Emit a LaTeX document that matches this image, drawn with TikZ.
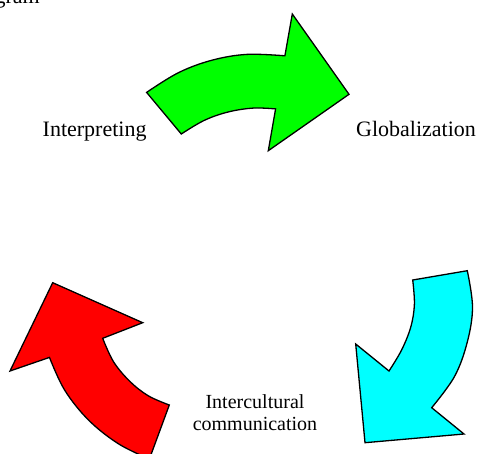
\documentclass[tikz,border=0pt]{standalone}
\usepackage{fontspec}
\setmainfont{Liberation Serif}
\definecolor{arrgreen}{RGB}{0,255,0}
\definecolor{arrcyan}{RGB}{0,255,255}
\definecolor{arrred}{RGB}{255,0,0}
\begin{document}
\begin{tikzpicture}[x=1pt,y=-1pt,
  arrowshape/.style={draw=black,line width=1.3pt,line join=miter},
  lbl/.style={inner sep=0pt,font=\fontsize{22}{26}\selectfont},
  smalllbl/.style={inner sep=0pt,font=\fontsize{20}{22}\selectfont,align=center}]
\useasboundingbox (0,0) rectangle (477,453);
\clip (0,0) rectangle (477,453);
% green arrow
\filldraw[arrowshape,fill=arrgreen] (146.6,92.4) -- plot[smooth,tension=0.6] coordinates {(146.6,92.4) (178.4,72.7) (211.6,60.3) (246.6,54.4) (284.9,55.8)} -- (292.3,14) -- (349,94.3) -- (268.3,150.7) -- plot[smooth,tension=0.6] coordinates {(275.6,108.9) (253.1,108.1) (228.1,112) (204.2,120.4) (181.3,134)} -- cycle;
% cyan arrow
\filldraw[arrowshape,fill=arrcyan] (412.7,280) -- (467.3,270.7) -- plot[smooth,tension=0.6] coordinates {(467.3,270.7) (472.5,307) (467.3,342) (454.5,376.5) (431.7,407.7)} -- (464,434) -- (365,442.7) -- (355.7,344) -- plot[smooth,tension=0.6] coordinates {(389,371) (401.6,350) (410.8,326.9) (414.4,304.2) (412.7,280)} -- cycle;
% red arrow
\filldraw[arrowshape,fill=arrred] (169.3,405) -- plot[smooth,tension=0.6] coordinates {(169.3,405) (148.3,395.8) (129.8,381.3) (113.5,361.7) (102.7,338.3)} -- (142.7,322.7) -- (52.7,282.7) -- (10,371) -- (49.5,357.4) -- plot[smooth,tension=0.6] coordinates {(49.5,357.4) (64.6,390.0) (88.4,419.9) (118.3,443.7) (149.4,459)} -- cycle;
% labels
\node[lbl,anchor=base west] (interp) at (42.5,136) {Interpreting};
\node[lbl,anchor=base west] (glob) at (356,136.5) {Globalization};
\node[smalllbl,anchor=base] (icc) at (255,430) {Intercultural\\communication};
\node[lbl,anchor=base east] (title) at (40,3) {Diagram};
\end{tikzpicture}
\end{document}
